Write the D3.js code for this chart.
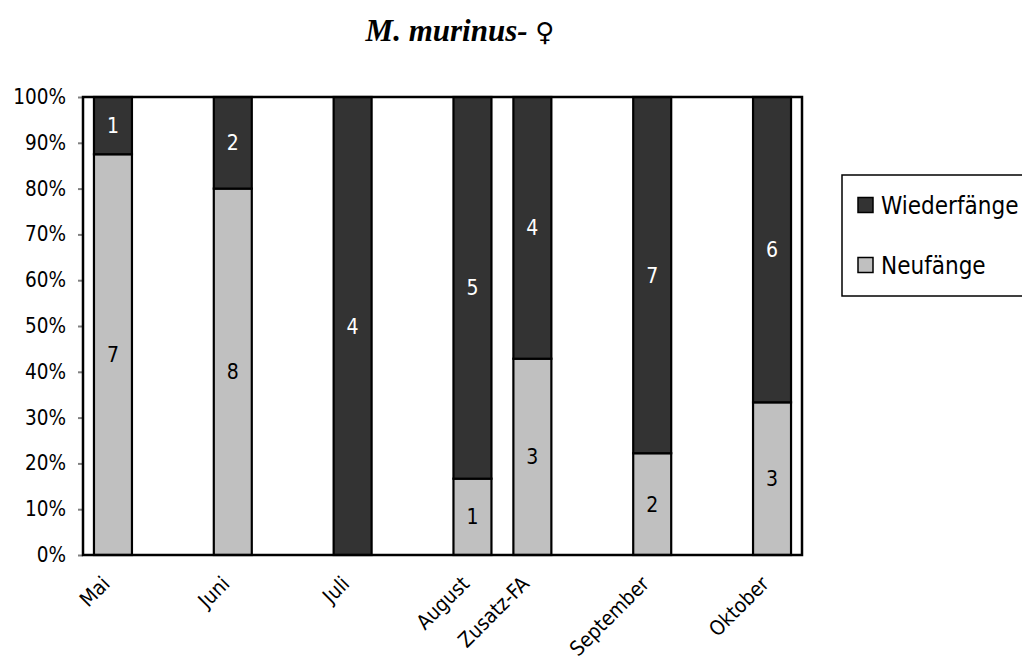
<!DOCTYPE html>
<html>
<head>
<meta charset="utf-8">
<script src="https://cdn.jsdelivr.net/npm/d3@7"></script>
<style>
  html, body { margin: 0; padding: 0; background: #fff; }
  svg { display: block; }
  text { font-family: "DejaVu Sans Condensed", "DejaVu Sans", Verdana, sans-serif; }
</style>
</head>
<body>
<svg id="chart" width="1022" height="661"></svg>
<script>
// Monthly captures of female M. murinus; empty strings are spacer columns.
const categories = ["Mai", "", "Juni", "", "Juli", "", "August", "Zusatz-FA", "", "September", "", "Oktober"];
const neufaenge = [7, null, 8, null, 0, null, 1, 3, null, 2, null, 3];
const wiederfaenge = [1, null, 2, null, 4, null, 5, 4, null, 7, null, 6];
const seriesNames = ["Neufänge", "Wiederfänge"];
const yTicks = [0, 0.1, 0.2, 0.3, 0.4, 0.5, 0.6, 0.7, 0.8, 0.9, 1.0];

const colors = { "Neufänge": "#c0c0c0", "Wiederfänge": "#333333" };
const labelColors = { "Neufänge": "#000", "Wiederfänge": "#fff" };

const svg = d3.select("#chart");
const plot = { left: 83, right: 802, top: 97, bottom: 555 };

const rows = categories.map((c, i) => ({
  idx: i,
  cat: c,
  "Neufänge": neufaenge[i] || 0,
  "Wiederfänge": wiederfaenge[i] || 0
}));

const x = d3.scaleBand()
  .domain(d3.range(categories.length))
  .range([plot.left, plot.right])
  .paddingInner(0.366)
  .paddingOuter(0.183);

const y = d3.scaleLinear().domain([0, 1]).range([plot.bottom, plot.top]);

const stacked = d3.stack()
  .keys(seriesNames)
  .offset(d3.stackOffsetExpand)(rows.filter(r => r["Neufänge"] + r["Wiederfänge"] > 0));

// Title
const title = svg.append("text")
  .attr("x", 460)
  .attr("y", 41)
  .attr("text-anchor", "middle")
  .style("font-family", "'Liberation Serif', 'Times New Roman', serif")
  .style("font-size", "31px");
title.append("tspan").style("font-weight", "bold").style("font-style", "italic").text("M. murinus- ");
title.append("tspan")
  .style("font-weight", "normal")
  .style("font-family", "'DejaVu Sans', sans-serif")
  .style("font-size", "26px")
  .text("♀");

// Y axis
const yAxis = svg.append("g")
  .attr("transform", `translate(${plot.left},0)`)
  .call(d3.axisLeft(y).tickValues(yTicks).tickFormat(d3.format(".0%")).tickSize(5).tickPadding(12));
yAxis.select(".domain").remove();
yAxis.selectAll(".tick line").attr("stroke", "#808080").attr("stroke-width", 2);
yAxis.selectAll(".tick text")
  .style("font-size", "20.5px")
  .style("font-family", "'DejaVu Sans Condensed', 'DejaVu Sans', sans-serif")
  .attr("fill", "#000");

// Bars
const groups = svg.append("g").selectAll("g")
  .data(stacked)
  .join("g")
  .attr("fill", d => colors[d.key]);

groups.selectAll("rect")
  .data(d => d.map(p => ({ key: d.key, p })))
  .join("rect")
  .attr("x", d => x(d.p.data.idx))
  .attr("width", x.bandwidth())
  .attr("y", d => y(d.p[1]))
  .attr("height", d => y(d.p[0]) - y(d.p[1]))
  .attr("stroke", "#000")
  .attr("stroke-width", 2.2);

// Value labels
groups.selectAll("text")
  .data(d => d.map(p => ({ key: d.key, p })).filter(e => e.p.data[e.key] > 0))
  .join("text")
  .attr("x", d => x(d.p.data.idx) + x.bandwidth() / 2)
  .attr("y", d => (y(d.p[0]) + y(d.p[1])) / 2)
  .attr("dy", "0.36em")
  .attr("text-anchor", "middle")
  .attr("fill", d => labelColors[d.key])
  .style("font-size", "21px")
  .text(d => d.p.data[d.key]);

// Plot frame
svg.append("rect")
  .attr("x", plot.left)
  .attr("y", plot.top)
  .attr("width", plot.right - plot.left)
  .attr("height", plot.bottom - plot.top)
  .attr("fill", "none")
  .attr("stroke", "#000")
  .attr("stroke-width", 2.5);

// X axis labels, rotated
const xAxis = svg.append("g")
  .attr("transform", `translate(0,${plot.bottom})`)
  .call(d3.axisBottom(x).tickSize(0).tickFormat(i => categories[i]));
xAxis.select(".domain").remove();
xAxis.selectAll(".tick text")
  .attr("text-anchor", "end")
  .attr("x", 0)
  .attr("y", 0)
  .attr("dy", "0.35em")
  .attr("transform", "translate(-7,25) rotate(-45)")
  .style("font-size", "20.5px")
  .attr("fill", "#000");

// Legend
const legend = svg.append("g");
legend.append("rect")
  .attr("x", 842).attr("y", 175)
  .attr("width", 200).attr("height", 121)
  .attr("fill", "#fff").attr("stroke", "#000").attr("stroke-width", 1.5);
const legendItems = ["Wiederfänge", "Neufänge"];
legendItems.forEach((name, i) => {
  const cy = 205 + i * 60;
  legend.append("rect")
    .attr("x", 858).attr("y", cy - 7.5)
    .attr("width", 15).attr("height", 15)
    .attr("fill", colors[name]).attr("stroke", "#000").attr("stroke-width", 1.5);
  legend.append("text")
    .attr("x", 881).attr("y", cy)
    .attr("dy", "0.36em")
    .style("font-size", "24px")
    .text(name);
});
</script>
</body>
</html>
